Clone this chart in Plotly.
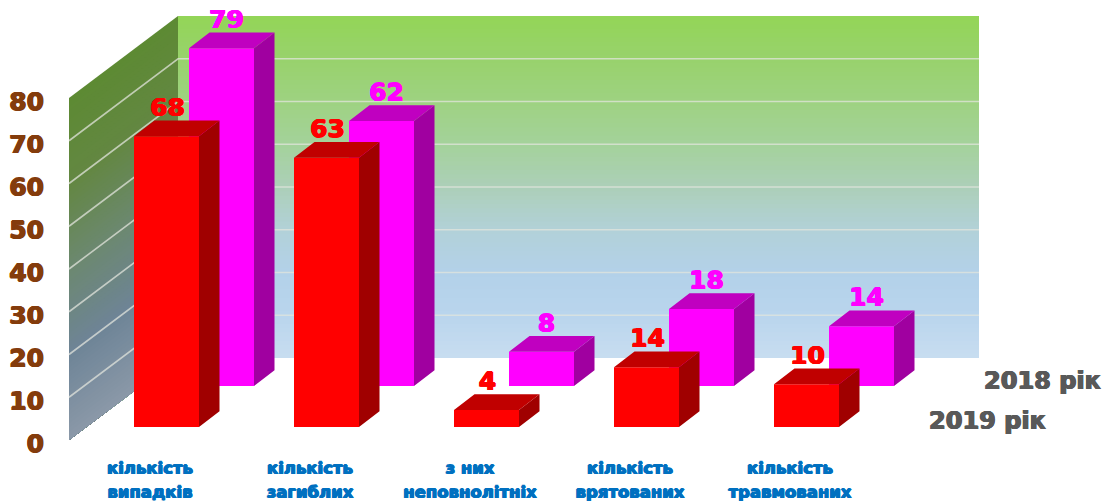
import numpy as np
import plotly.graph_objects as go

# ---- data ----
line1 = ["кількість", "кількість", "з них", "кількість", "кількість"]
line2 = ["випадків", "загиблих", "неповнолітніх", "врятованих", "травмованих"]
values_2018 = [79, 62, 8, 18, 14]
values_2019 = [68, 63, 4, 14, 10]
y_ticks = [0, 10, 20, 30, 40, 50, 60, 70, 80]
grid_levels = [10, 20, 30, 40, 50, 60, 70]
series_names = ["2018 рік", "2019 рік"]

# ---- geometry (pixels of the 1105x502 page mapped to axis units) ----
W, H = 1105, 502
ML, MB = 48, 50
PX_X, PX_V = 160.0, 4.275
X0_PX, V0_PX = 150.0, 443.5
def ux(px): return (px - X0_PX) / PX_X
def uy(dpx): return dpx / PX_V
xrange_ = [ux(ML), ux(W)]
yrange_ = [-(H - MB - V0_PX) / PX_V, V0_PX / PX_V]

WALL_L, WALL_C, WALL_R = ux(69), ux(178), ux(979)
WALL_B0 = uy(V0_PX - 440)
WALL_DY = uy(82)
BAR_W = 65 / PX_X
DX, DY = 20.5 / PX_X, uy(15.7)
FRONT_OFF, BACK_OFF = 16.5 / PX_X, 71.5 / PX_X
FRONT_BASE, BACK_BASE = uy(V0_PX - 427), uy(V0_PX - 386)

def lerp_color(v, stops, cols):
    c = [np.interp(v, stops, [int(k[i:i+2], 16) for k in cols]) for i in (1, 3, 5)]
    return "rgb(%d,%d,%d)" % tuple(round(float(a)) for a in c)

def heavy(col):
    return f"0.7px 0 0 {col}, -0.7px 0 0 {col}, 0 0.4px 0 {col}, 0 -0.4px 0 {col}"

back_stops = [0, 10, 20, 30, 40, 50, 60, 70, 80]
back_cols = ["#c8ddf0", "#b9d5ed", "#b3d1e9", "#b2d1d8", "#accfb8", "#a4d29b", "#9ed281", "#98d26c", "#93d557"]
side_stops = [0, 20, 40, 60, 80]
side_cols = ["#8b99a8", "#6e8497", "#6c8870", "#638742", "#5d8a33"]

shapes = []
b = WALL_B0
for v in range(80, 0, -1):
    shapes.append(dict(type="path", xref="x", yref="y", layer="below", line_width=0,
        fillcolor=lerp_color(v - 0.5, back_stops, back_cols),
        path=f"M{WALL_C},{b+v+WALL_DY} L{WALL_R},{b+v+WALL_DY} L{WALL_R},{b+WALL_DY} L{WALL_C},{b+WALL_DY} Z"))
    shapes.append(dict(type="path", xref="x", yref="y", layer="below", line_width=0,
        fillcolor=lerp_color(v - 0.5, side_stops, side_cols),
        path=f"M{WALL_L},{b+v} L{WALL_C},{b+v+WALL_DY} L{WALL_C},{b+WALL_DY} L{WALL_L},{b} Z"))
for v in grid_levels:
    shapes.append(dict(type="path", xref="x", yref="y", layer="below",
        line=dict(color="rgba(226,228,220,0.75)", width=1.6),
        path=f"M{WALL_L},{b+v} L{WALL_C},{b+v+WALL_DY} L{WALL_R},{b+v+WALL_DY}"))

def faces(xs, base, vals):
    top_x, top_y, side_x, side_y = [], [], [], []
    for x, v in zip(xs, vals):
        l, r, t = x - BAR_W / 2, x + BAR_W / 2, base + v
        top_x += [l, l + DX, r + DX, r, l, None]
        top_y += [t, t + DY, t + DY, t, t, None]
        side_x += [r, r + DX, r + DX, r, r, None]
        side_y += [t, t + DY, base + DY, base, t, None]
    return top_x, top_y, side_x, side_y

def row(vals, off, base, face, top, side, xa, ya, label_shift):
    xs = [i + off for i in range(len(vals))]
    tx, ty, sx, sy = faces(xs, base, vals)
    return [
        go.Bar(x=xs, y=vals, base=[base] * len(vals), width=BAR_W, marker=dict(color=face, line_width=0),
               xaxis=xa, yaxis=ya, hoverinfo="skip", showlegend=False),
        go.Scatter(x=sx, y=sy, mode="none", fill="toself", fillcolor=side, xaxis=xa, yaxis=ya,
                   hoverinfo="skip", showlegend=False),
        go.Scatter(x=tx, y=ty, mode="none", fill="toself", fillcolor=top, xaxis=xa, yaxis=ya,
                   hoverinfo="skip", showlegend=False),
        go.Scatter(x=[x + label_shift for x in xs], y=[base + v + uy(26.5) for v in vals],
                   text=[str(v) for v in vals], mode="text", textposition="middle center",
                   textfont=dict(family="DejaVu Sans", size=25, weight=700, color=face, shadow=heavy(face)),
                   xaxis=xa, yaxis=ya, hoverinfo="skip", showlegend=False, cliponaxis=False),
    ]

fig = go.Figure()
for t in row(values_2018, BACK_OFF, BACK_BASE, "#ff00ff", "#c000c0", "#a000a0", "x", "y", 5 / PX_X):
    fig.add_trace(t)
for t in row(values_2019, FRONT_OFF, FRONT_BASE, "#ff0000", "#c00000", "#a00000", "x2", "y2", 1 / PX_X):
    fig.add_trace(t)

fig.add_trace(go.Scatter(x=[ux(1042.5), ux(987.5)], y=[uy(V0_PX - 383), uy(V0_PX - 423)],
    text=series_names, mode="text", textposition="middle center",
    textfont=dict(family="DejaVu Sans", size=24, weight=700, color="#595959", shadow=heavy("#595959")),
    xaxis="x2", yaxis="y2", hoverinfo="skip", showlegend=False, cliponaxis=False))

cat_font = dict(family="DejaVu Sans", size=16.5, weight=700, color="#0070c0", shadow=heavy("#0070c0"))
xbase = dict(range=xrange_, showgrid=False, zeroline=False, showline=False, ticks="",
             tickmode="array", tickvals=list(range(5)), tickangle=0, tickfont=cat_font, fixedrange=True)

fig.update_layout(
    width=W, height=H, autosize=False,
    margin=dict(l=ML, r=0, t=0, b=MB, pad=0),
    paper_bgcolor="white", plot_bgcolor="white",
    barmode="overlay", showlegend=False, shapes=shapes,
    xaxis=dict(xbase, ticktext=line1, ticklabelstandoff=4),
    xaxis2=dict(xbase, ticktext=line2, overlaying="x", anchor="y2", ticklabelstandoff=28),
    yaxis=dict(range=yrange_, showgrid=False, zeroline=False, showline=False, ticks="",
               tickmode="array", tickvals=y_ticks, ticktext=[str(v) for v in y_ticks],
               tickfont=dict(family="DejaVu Sans", size=25, weight=700, color="#843c0c", shadow=heavy("#843c0c")),
               ticklabelstandoff=3, fixedrange=True),
    yaxis2=dict(range=yrange_, overlaying="y", anchor="x2", visible=False, fixedrange=True),
)
fig.write_html("out.html", config=dict(displayModeBar=False),
               post_script="document.body.style.margin='0';document.body.style.overflow='hidden';")
